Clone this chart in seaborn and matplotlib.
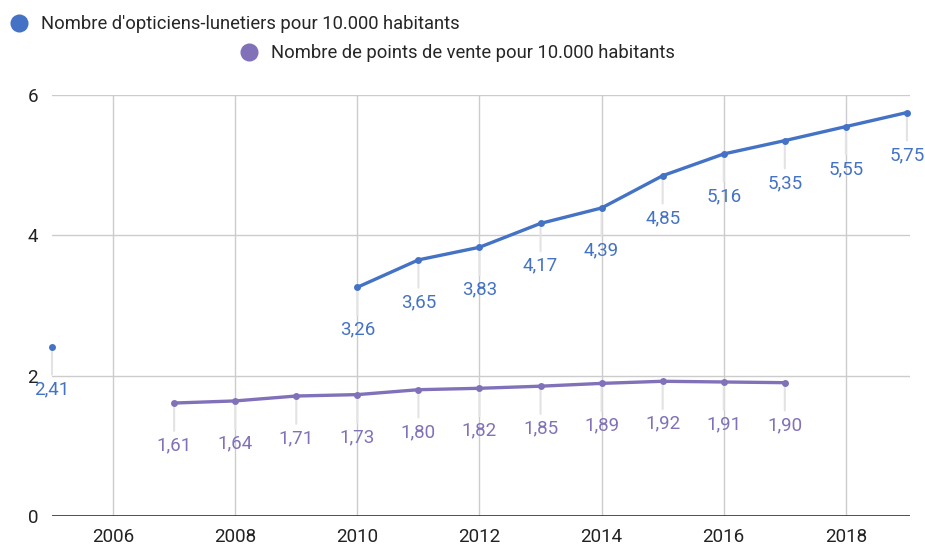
import matplotlib
matplotlib.use("Agg")
import matplotlib.pyplot as plt
import numpy as np
import pandas as pd
import seaborn as sns
from matplotlib.lines import Line2D

# Données
annees = list(range(2005, 2020))
opticiens = [2.41, None, None, None, None, 3.26, 3.65, 3.83, 4.17, 4.39,
             4.85, 5.16, 5.35, 5.55, 5.75]
points_vente = [None, None, 1.61, 1.64, 1.71, 1.73, 1.80, 1.82, 1.85, 1.89,
                1.92, 1.91, 1.90, None, None]
serie_opt = "Nombre d'opticiens-lunetiers pour 10.000 habitants"
serie_pv = "Nombre de points de vente pour 10.000 habitants"
couleurs = {serie_opt: "#4472C4", serie_pv: "#8171B9"}

sns.set_theme(style="white")
plt.rcParams["font.family"] = ["Roboto", "DejaVu Sans"]


def long_format(nom, valeurs):
    df = pd.DataFrame({"annee": annees, "valeur": valeurs, "serie": nom})
    # segments continus (pas de liaison à travers les trous)
    df["segment"] = df["valeur"].isna().cumsum()
    return df.dropna()


df = pd.concat([long_format(serie_opt, opticiens),
                long_format(serie_pv, points_vente)], ignore_index=True)

fig = plt.figure(figsize=(9.25, 5.45), dpi=100)
ax = fig.add_axes([52 / 925, 1 - 516 / 545, 858 / 925, 421 / 545])

sns.lineplot(data=df, x="annee", y="valeur", hue="serie", units="segment",
             estimator=None, palette=couleurs, linewidth=2.4, marker="o",
             markersize=5, markeredgewidth=0, legend=False, ax=ax, zorder=3)
for ln in ax.lines:
    ln.set_clip_on(False)

# étiquettes de valeurs
for _, r in df.iterrows():
    c = couleurs[r["serie"]]
    ax.annotate("", xy=(r["annee"], r["valeur"]), xytext=(0, -20),
                textcoords="offset points",
                arrowprops=dict(arrowstyle="-", color="#e3e3e3", lw=1.5,
                                shrinkA=0, shrinkB=3), zorder=1)
    ax.annotate(f"{r['valeur']:.2f}".replace(".", ","),
                xy=(r["annee"], r["valeur"]), xytext=(0, -30.5),
                textcoords="offset points", ha="center", va="center",
                fontsize=13.5, color=c, zorder=4)

ax.set_xlim(2005, 2019.05)
ax.set_ylim(0, 6)
ax.set_xticks(range(2006, 2019, 2))
ax.set_yticks([0, 2, 4, 6])
ax.grid(True, color="#cccccc", linewidth=1)
ax.set_axisbelow(True)
for s in ax.spines.values():
    s.set_visible(False)
ax.axhline(0, color="#333333", linewidth=1.2, zorder=2)
ax.tick_params(axis="both", length=0, labelsize=13.5, labelcolor="#222222")
ax.tick_params(axis="x", pad=9)
ax.tick_params(axis="y", pad=10)
ax.set_xlabel("")
ax.set_ylabel("")

# légende
def pastille(c):
    return Line2D([], [], marker="o", linestyle="", markersize=13,
                  markerfacecolor=c, markeredgewidth=0)


fig.legend([pastille(couleurs[serie_opt])], [serie_opt], loc="center left",
           bbox_to_anchor=(-7 / 925, 1 - 24 / 545), frameon=False,
           fontsize=13.2, handletextpad=0.2, borderaxespad=0)
fig.legend([pastille(couleurs[serie_pv])], [serie_pv], loc="center left",
           bbox_to_anchor=(223 / 925, 1 - 53 / 545), frameon=False,
           fontsize=13.2, handletextpad=0.2, borderaxespad=0)

fig.savefig("out.png", dpi=100)
